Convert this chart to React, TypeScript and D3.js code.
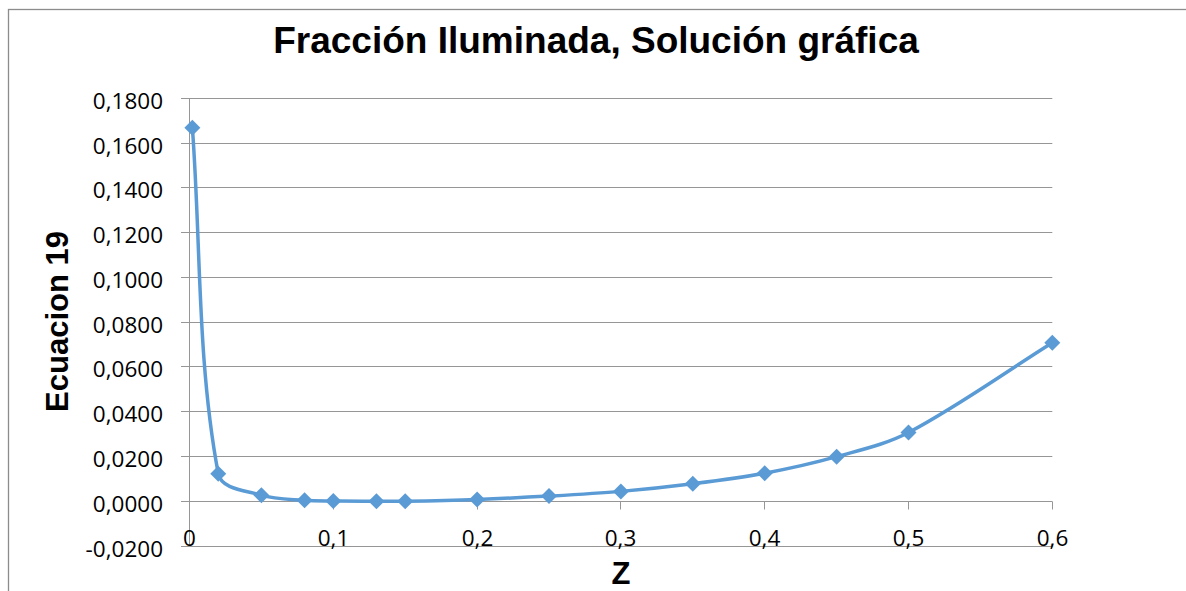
import React from "react";
import * as d3 from "d3";

const zValues = [0.002, 0.02, 0.05, 0.08, 0.1, 0.13, 0.15, 0.2, 0.25, 0.3, 0.35, 0.4, 0.45, 0.5, 0.6];
const eqValues = [0.1668, 0.0123, 0.0027, 0.0004, 0.0001, 0.0, 0.0, 0.0008, 0.0023, 0.0044, 0.0078, 0.0125, 0.0199, 0.0307, 0.0708];
const yTicks = [-0.02, 0, 0.02, 0.04, 0.06, 0.08, 0.1, 0.12, 0.14, 0.16, 0.18];
const xTicks = [0, 0.1, 0.2, 0.3, 0.4, 0.5, 0.6];
const title = "Fracción Iluminada, Solución gráfica";
const yTitle = "Ecuacion 19";
const xTitle = "Z";

const W = 1186;
const H = 591;
const left = 189.5;
const right = 1052.3;
const top = 98.3;
const bottom = 546;

const BLUE = "#5B9BD5";
const GRID = "#969696";
const tickFont = "'Open Sans', sans-serif";
const boldFont = "'Liberation Sans', Arial, sans-serif";

const fmtY = (v: number) => v.toFixed(4).replace(".", ",");
const fmtX = (v: number) => (v === 0 ? "0" : String(+v.toFixed(1)).replace(".", ","));

// Smoothed path: tangent direction from neighbours, arm length = 1/3 of own segment chord
function smoothPath(p: [number, number][]): string {
  const n = p.length;
  const dir = (i: number): [number, number] => {
    const a = p[Math.max(0, i - 1)];
    const b = p[Math.min(n - 1, i + 1)];
    const dx = b[0] - a[0];
    const dy = b[1] - a[1];
    const l = Math.hypot(dx, dy) || 1;
    return [dx / l, dy / l];
  };
  const path = d3.path();
  path.moveTo(p[0][0], p[0][1]);
  for (let i = 0; i < n - 1; i++) {
    const a = p[i];
    const b = p[i + 1];
    const chord = Math.hypot(b[0] - a[0], b[1] - a[1]);
    const k = chord / 3;
    const da = dir(i);
    const db = dir(i + 1);
    path.bezierCurveTo(a[0] + da[0] * k, a[1] + da[1] * k, b[0] - db[0] * k, b[1] - db[1] * k, b[0], b[1]);
  }
  return path.toString();
}

export default function App() {
  const x = d3.scaleLinear().domain([0, 0.6]).range([left, right]);
  const y = d3.scaleLinear().domain([-0.02, 0.18]).range([bottom, top]);
  const pts: [number, number][] = zValues.map((z, i) => [x(z), y(eqValues[i])]);
  const line = smoothPath(pts);
  const crisp = (v: number) => Math.round(v - 0.5) + 0.5;
  const y0 = crisp(y(0));
  const xAxisX = crisp(x(0));
  const m = 8;

  return (
    <svg width={W} height={H} style={{ position: "absolute", left: 0, top: 0, background: "#fff" }}>
      <rect x={8.5} y={9.5} width={1300} height={700} fill="#fff" stroke="#8c8c8c" strokeWidth={1.3} />
      <text x={596} y={53} textAnchor="middle" fontFamily={boldFont} fontWeight="bold" fontSize={37} fill="#000">
        {title}
      </text>
      {yTicks.map((t) => {
        const yy = crisp(y(t));
        return (
          <g key={t}>
            <line x1={181} x2={right} y1={yy} y2={yy} stroke={GRID} strokeWidth={1} />
            <text x={163} y={yy + 2} textAnchor="end" dominantBaseline="central" fontFamily={tickFont} fontSize={22.5} fill="#000">
              {fmtY(t)}
            </text>
          </g>
        );
      })}
      <line x1={xAxisX} x2={xAxisX} y1={crisp(top)} y2={crisp(bottom)} stroke={GRID} strokeWidth={1} />
      {xTicks.map((t) => {
        const xx = crisp(x(t));
        return (
          <g key={t}>
            <line x1={xx} x2={xx} y1={y0} y2={y0 + 8} stroke={GRID} strokeWidth={1} />
            <text x={xx} y={537} textAnchor="middle" dominantBaseline="central" fontFamily={tickFont} fontSize={22.5} fill="#000">
              {fmtX(t)}
            </text>
          </g>
        );
      })}
      <path d={line} fill="none" stroke={BLUE} strokeWidth={3.5} strokeLinejoin="round" strokeLinecap="round" />
      {pts.map(([px, py], i) => (
        <path key={i} d={`M${px},${py - m}L${px + m},${py}L${px},${py + m}L${px - m},${py}Z`} fill={BLUE} />
      ))}
      <text
        transform={`translate(68,${321.5}) rotate(-90)`}
        textAnchor="middle"
        fontFamily={boldFont}
        fontWeight="bold"
        fontSize={31}
        fill="#000"
      >
        {yTitle}
      </text>
      <text x={621} y={584} textAnchor="middle" fontFamily={boldFont} fontWeight="bold" fontSize={31} fill="#000">
        {xTitle}
      </text>
    </svg>
  );
}
